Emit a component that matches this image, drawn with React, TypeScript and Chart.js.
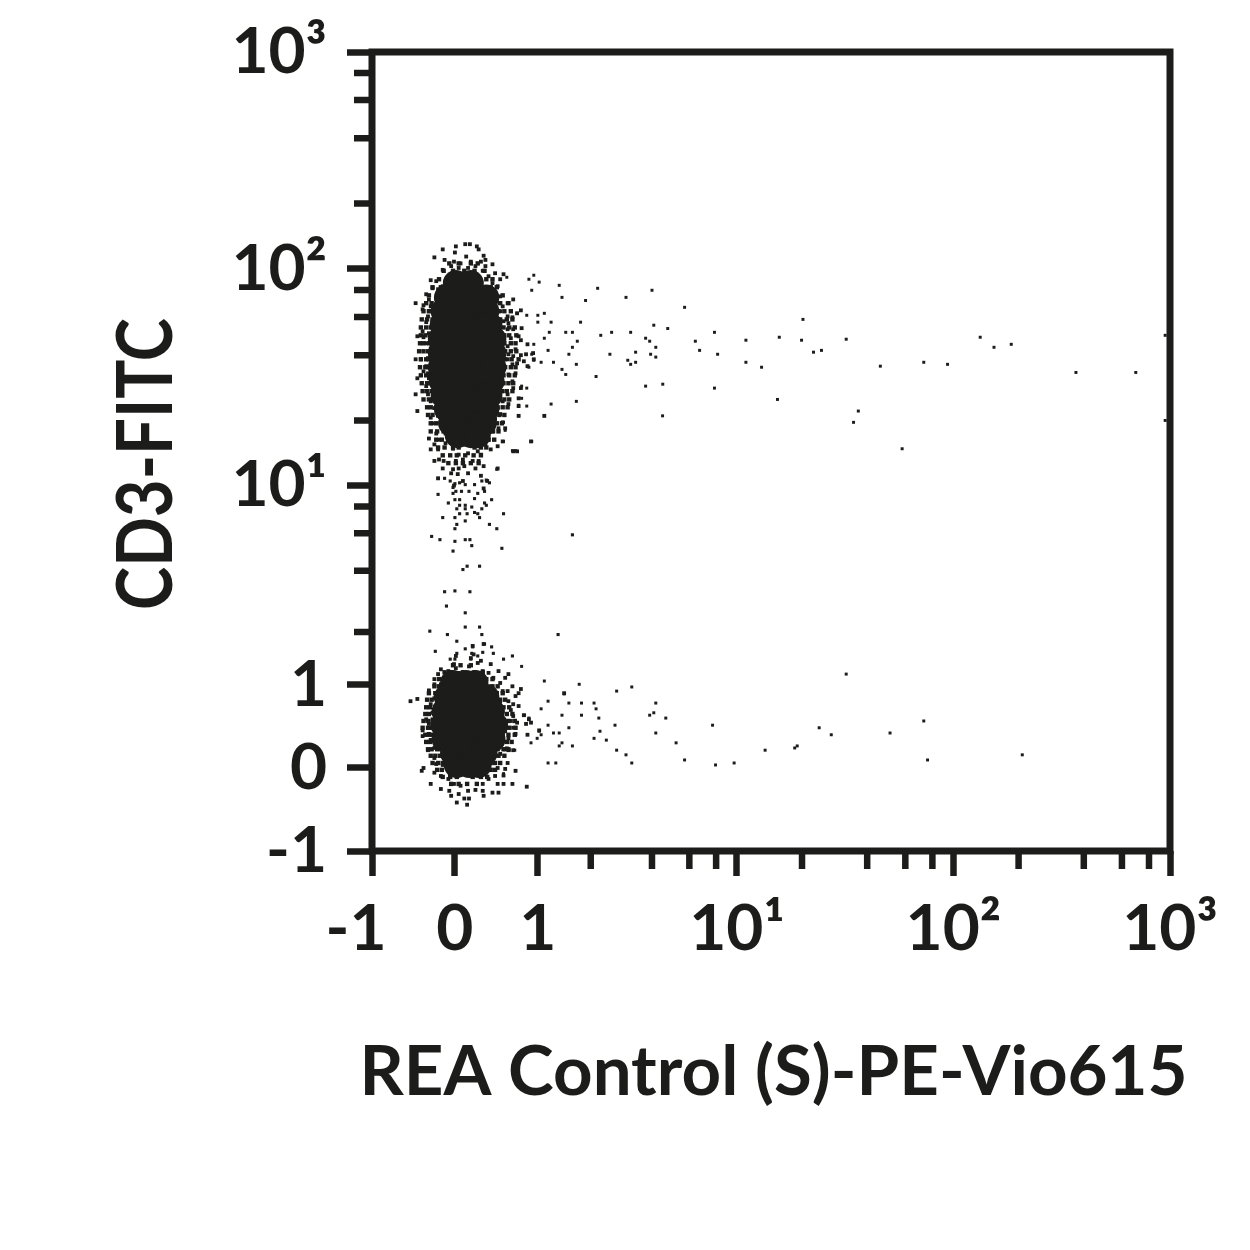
import React, { useEffect, useRef } from "react";
import { Chart, registerables, LinearScale } from "chart.js";

const axisTicks = [-1, 0, 1, 2, 4, 6, 8, 10, 20, 40, 60, 80, 100, 200, 400, 600, 800, 1000];
const xTickLabels = ["-1\u2002", "0", "1", "", "", "", "", "10¹", "", "", "", "", "10²", "", "", "", "", "10³"];
const yTickLabels = ["-1", "0", "1", "", "", "", "", "10¹", "", "", "", "", "10²", "", "", "", "", "10³"];
const xTitle = "REA Control (S)-PE-Vio615";
const yTitle = "CD3-FITC";

const upperCore = [
  [0.01,86],[0.17,86],
  [-0.085,73.9],[0.06,73.9],[0.21,73.9],[0.34,73.9],
  [-0.12,63.8],[0.04,63.8],[0.19,63.8],[0.34,63.8],
  [-0.13,55],[0.02,55],[0.17,55],[0.32,55],[0.375,55],
  [-0.15,47.4],[0,47.4],[0.15,47.4],[0.3,47.4],[0.42,47.4],
  [-0.15,40.9],[0,40.9],[0.15,40.9],[0.3,40.9],[0.42,40.9],
  [-0.15,35.2],[0,35.2],[0.15,35.2],[0.3,35.2],[0.42,35.2],
  [-0.14,30.3],[0,30.3],[0.15,30.3],[0.3,30.3],[0.4,30.3],
  [-0.12,26.1],[0.02,26.1],[0.17,26.1],[0.32,26.1],[0.375,26.1],
  [-0.085,22.6],[0.06,22.6],[0.21,22.6],[0.34,22.6],
  [-0.04,19.4],[0.11,19.4],[0.255,19.4],[0.31,19.4],
  [0.03,17.1],[0.17,17.1],[0.245,17.1],
];
const lowerCore = [
  [-0.02,1.03],[0.12,1.03],[0.22,1.03],
  [-0.085,0.825],[0.06,0.825],[0.21,0.825],[0.34,0.825],
  [-0.11,0.64],[0.04,0.64],[0.19,0.64],[0.34,0.64],[0.4,0.64],
  [-0.12,0.47],[0.03,0.47],[0.18,0.47],[0.33,0.47],[0.44,0.47],
  [-0.11,0.31],[0.04,0.31],[0.19,0.31],[0.34,0.31],[0.41,0.31],
  [-0.02,0.16],[0.13,0.16],[0.28,0.16],[0.32,0.16],
  [0.02,0.032],[0.15,0.032],[0.255,0.032],
];
const upperShell = [
  [-0.06,106],[0.04,106],[0.17,106],[0.245,106],
  [-0.12,98],[-0.02,98],[0.1,98],[0.21,98],[0.32,98],
  [-0.17,89.6],[-0.07,89.6],[0.02,89.6],[0.235,89.6],[0.34,89.6],[0.41,89.6],
  [-0.24,82.3],[-0.15,82.3],[-0.06,82.3],[0.3,82.3],[0.39,82.3],[0.46,82.3],
  [-0.28,75.5],[-0.19,75.5],[-0.11,75.5],[0.365,75.5],[0.44,75.5],[0.53,75.5],
  [-0.31,69.5],[-0.25,69.5],[-0.16,69.5],[0.43,69.5],[0.5,69.5],[0.6,69.5],
  [-0.34,63.8],[-0.28,63.8],[-0.2,63.8],[0.48,63.8],[0.55,63.8],[0.63,63.8],
  [-0.36,58.5],[-0.3,58.5],[-0.24,58.5],[0.5,58.5],[0.58,58.5],[0.65,58.5],
  [-0.37,53.7],[-0.31,53.7],[-0.26,53.7],[0.54,53.7],[0.61,53.7],[0.68,53.7],
  [-0.37,49.4],[-0.32,49.4],[-0.27,49.4],[0.55,49.4],[0.61,49.4],[0.7,49.4],
  [-0.38,45.4],[-0.34,45.4],[-0.28,45.4],[0.55,45.4],[0.63,45.4],[0.69,45.4],
  [-0.39,41.7],[-0.34,41.7],[-0.29,41.7],[0.56,41.7],[0.63,41.7],[0.7,41.7],
  [-0.37,38.3],[-0.31,38.3],[-0.28,38.3],[0.56,38.3],[0.64,38.3],[0.73,38.3],
  [-0.38,35.2],[-0.32,35.2],[-0.28,35.2],[0.56,35.2],[0.63,35.2],[0.69,35.2],
  [-0.37,32.3],[-0.31,32.3],[-0.27,32.3],[0.54,32.3],[0.61,32.3],[0.68,32.3],
  [-0.36,29.7],[-0.3,29.7],[-0.26,29.7],[0.54,29.7],[0.6,29.7],[0.66,29.7],
  [-0.35,27.3],[-0.3,27.3],[-0.25,27.3],[0.52,27.3],[0.58,27.3],[0.65,27.3],
  [-0.34,25],[-0.28,25],[-0.24,25],[0.49,25],[0.55,25],[0.61,25],
  [-0.3,23],[-0.26,23],[-0.2,23],[0.47,23],[0.53,23],[0.59,23],
  [-0.29,21.2],[-0.24,21.2],[-0.18,21.2],[0.43,21.2],[0.49,21.2],[0.55,21.2],
  [-0.26,19.4],[-0.2,19.4],[-0.15,19.4],[0.39,19.4],[0.46,19.4],[0.52,19.4],
  [-0.26,17.8],[-0.19,17.8],[-0.12,17.8],[0.34,17.8],[0.41,17.8],[0.48,17.8],
  [-0.2,16.3],[-0.14,16.3],[-0.07,16.3],[0.3,16.3],[0.365,16.3],[0.43,16.3],
  [-0.18,15],[-0.11,15],[-0.02,15],[0.04,15],[0.21,15],[0.28,15],[0.34,15],
  [-0.13,13.8],[-0.05,13.8],[0.02,13.8],[0.11,13.8],[0.2,13.8],[0.28,13.8],
  [-0.07,12.7],[0.01,12.7],[0.085,12.7],[0.17,12.7],[0.255,12.7],
];
const lowerShell = [
  [-0.02,1.32],[0.06,1.32],[0.17,1.32],
  [-0.11,1.2],[-0.04,1.2],[0.085,1.2],[0.21,1.2],[0.3,1.2],
  [-0.17,1.09],[-0.11,1.09],[-0.02,1.09],[0.28,1.09],[0.34,1.09],[0.41,1.09],
  [-0.22,0.98],[-0.17,0.98],[-0.11,0.98],[0.34,0.98],[0.41,0.98],[0.47,0.98],
  [-0.28,0.88],[-0.21,0.88],[-0.15,0.88],[0.39,0.88],[0.46,0.88],[0.53,0.88],
  [-0.3,0.79],[-0.25,0.79],[-0.19,0.79],[0.43,0.79],[0.5,0.79],[0.56,0.79],
  [-0.31,0.69],[-0.27,0.69],[-0.2,0.69],[0.48,0.69],[0.54,0.69],[0.61,0.69],
  [-0.32,0.605],[-0.28,0.605],[-0.22,0.605],[0.52,0.605],[0.58,0.605],[0.65,0.605],
  [-0.34,0.52],[-0.29,0.52],[-0.24,0.52],[0.54,0.52],[0.6,0.52],[0.68,0.52],
  [-0.35,0.44],[-0.29,0.44],[-0.25,0.44],[0.54,0.44],[0.61,0.44],[0.69,0.44],
  [-0.32,0.36],[-0.28,0.36],[-0.24,0.36],[0.53,0.36],[0.6,0.36],[0.68,0.36],
  [-0.31,0.28],[-0.27,0.28],[-0.21,0.28],[0.5,0.28],[0.58,0.28],[0.64,0.28],
  [-0.29,0.2],[-0.25,0.2],[-0.19,0.2],[0.47,0.2],[0.54,0.2],[0.6,0.2],
  [-0.26,0.13],[-0.21,0.13],[-0.16,0.13],[0.42,0.13],[0.48,0.13],[0.55,0.13],
  [-0.24,0.053],[-0.18,0.053],[-0.13,0.053],[0.39,0.053],[0.44,0.053],[0.5,0.053],
  [-0.19,-0.02],[-0.14,-0.02],[-0.07,-0.02],[0.33,-0.02],[0.39,-0.02],[0.44,-0.02],
  [-0.13,-0.095],[-0.05,-0.095],[0.02,-0.095],[0.19,-0.095],[0.28,-0.095],[0.35,-0.095],
  [-0.04,-0.17],[0.04,-0.17],[0.13,-0.17],[0.235,-0.17],
];
const upperFringe = [
  [0.01,127],[0.11,130],[0.16,130],[0.235,127],[-0.13,123],[0,119],[0.255,123],[-0.22,113],[0.12,114],[0.31,115],
  [-0.01,108],[0.06,106],[0.17,108],[0.28,108],[-0.11,110],[0.33,110],[-0.04,103],[0.04,101],[0.14,101],[0.22,103],
  [0.33,103],[0.41,105],[-0.13,99],[0.01,95.5],[0.1,95.5],[0.2,94.5],[0.3,98],[0.44,95.5],[-0.06,92.5],[0.365,92.5],
  [0.54,94.5],[0.5,89.6],[-0.2,87.8],[-0.1,87.8],[-0.26,88.7],[-0.13,83.2],[0.41,86],[0.47,83.2],[-0.24,81.4],[-0.18,80.6],
  [0.42,78.9],[-0.31,76.4],[-0.17,76.4],[0.5,74.7],[-0.28,72.3],[-0.2,73.1],[-0.43,69.5],[-0.34,68],[-0.26,67.2],[0.59,69.5],
  [0.53,67.2],[0.66,72.3],[-0.35,65.1],[-0.28,63.8],[0.5,63.8],[0.71,62.4],[0.76,64.4],[-0.29,60.4],[0.59,60.4],[0.65,59.8],
  [0.47,58.5],[0.54,57.4],[-0.24,57.4],[-0.31,56.8],[0.6,56.2],[0.66,52.7],[-0.35,51.6],[-0.28,50.5],[0.59,52.7],[0.77,53.3],
  [-0.41,48.9],[-0.34,48.4],[0.73,48.9],[0.76,46.9],[0.63,47.9],[-0.31,45.4],[0.85,44.9],[0.59,44],[0.69,42.6],[-0.26,43],
  [-0.43,38.3],[-0.37,38.3],[-0.29,38.8],[0.6,40.4],[0.66,39.6],[0.76,40],[0.83,40.4],[0.93,40.9],[0.59,38.3],[0.71,36.7],
  [0.8,37.5],[0.94,38.3],[-0.31,35.6],[-0.26,34.8],[0.65,36.3],[0.54,34.8],[-0.34,33.7],[-0.29,33],[0.85,35.6],[0.69,33],
  [0.6,32.6],[-0.41,31.3],[-0.28,31.3],[0.65,30.3],[0.76,28.2],[0.53,29.7],[-0.24,29.7],[-0.43,26.4],[-0.31,28.8],[-0.2,28.8],
  [0.66,28.2],[-0.24,27.3],[-0.29,26.4],[0.59,26.4],[0.53,27.3],[0.73,25.3],[-0.26,24.5],[-0.2,25],[0.53,24.5],[0.6,23.8],
  [0.73,23.3],[-0.41,22.1],[-0.22,22.8],[-0.15,23.8],[0.47,22.8],[0.5,21.4],[0.73,21],[1.1,21],[-0.26,20.6],[-0.18,21],
  [0.44,20.3],[0.53,19.6],[-0.24,19.4],[-0.15,19.4],[0.41,19.2],[-0.13,18.4],[0.48,18.4],[0.56,18.4],[-0.2,17.4],[-0.28,16.5],
  [-0.17,16.3],[-0.1,17.4],[-0.01,17.2],[0.28,17.8],[0.42,17.8],[0.365,16.3],[0.53,16],[0.9,16],[-0.22,15.5],[-0.1,15.7],
  [0.01,15.7],[0.1,15.5],[0.33,15.5],[0.47,15.2],[-0.26,14.7],[-0.18,14.7],[-0.02,14.8],[0.39,14.7],[0.66,14.4],[0.71,14.4],
  [0.04,13.9],[0.14,14.1],[0.245,14.4],[0.28,13.9],[-0.17,13.2],[-0.12,13],[0.01,13],[0.085,13.2],[0.19,13],[0.255,13],
  [0.47,12],[-0.22,13],[-0.13,12],[-0.02,11.9],[0.04,12],[0.1,12.3],[0.22,12],[0.31,12.3],[-0.04,11.4],[0.03,11.3],
  [0.14,11.4],[-0.18,10.8],[0.28,11.1],[-0.01,10],[0.085,10.5],[0.35,10.5],[0.31,9.7],
];
const bridge = [
  [0.46,11.9],[-0.18,10.8],[-0.11,10.8],[-0.05,10.5],[0.29,10.5],[0.34,10.6],[0.375,10.3],[0,10.2],[0.05,10.3],[0.11,10.1],
  [0.21,10.1],[-0.02,9.8],[0.01,9.4],[0.07,9.4],[0.15,9.4],[0.32,9.4],[-0.02,9.2],[0.245,9.2],[-0.18,9.1],[0.21,8.7],
  [0,8.6],[0.05,8.6],[0.4,8.6],[-0.07,8.3],[0.32,8.3],[0.05,8.1],[0.11,8.1],[0.34,8.1],[0.18,7.95],[0.02,7.8],
  [0.11,7.8],[0.29,7.8],[0.21,7.5],[0.05,7.4],[0.13,7.4],[0.245,7.4],[0.54,7.4],[-0.13,7.1],[0,7.1],[0.265,7.1],
  [0.11,6.85],[0.02,6.6],[0.375,6.6],[0,6.3],[0.46,6.3],[-0.25,5.8],[1.6,5.9],[-0.16,5.6],[0.11,5.6],[0.16,5.6],
  [0,5.5],[0.18,5.25],[0.52,5.1],[-0.02,4.95],[0.085,4.05],[0.13,4.2],[0.265,4.2],[-0.11,3.17],[0,3.2],[0.16,3.17],
  [-0.09,2.7],[0.11,2.5],[0.11,2.12],[0.265,2.12],[-0.27,2.02],[-0.08,1.94],[0.29,1.94],[1.33,1.94],[0.02,1.79],[0.32,1.73],
  [0.19,1.67],[0.4,1.67],[-0.21,1.58],[0.11,1.63],[0.02,1.54],[0.18,1.54],[0.3,1.56],[0.42,1.54],[0.65,1.49],[-0.05,1.43],
  [0,1.43],[0.17,1.43],[0.245,1.49],[0.54,1.43],
];
const lowerFringe = [
  [0.19,1.69],[0.31,1.73],[0.2,1.52],[0.01,1.49],[0.17,1.45],[0.28,1.4],[-0.01,1.34],[0.245,1.36],[0.39,1.34],[-0.15,1.25],
  [-0.07,1.22],[0.15,1.3],[0.01,1.27],[0.3,1.22],[0.48,1.22],[-0.18,1.17],[0.04,1.19],[0.22,1.19],[0.365,1.19],[0.6,1.17],
  [-0.22,1.09],[-0.12,1.09],[0.42,1.11],[0.56,1.11],[-0.02,1.06],[0.33,1.09],[0.5,1.03],[-0.22,1.01],[-0.15,1.01],[0.39,0.98],
  [0.65,0.98],[0.76,0.94],[-0.28,0.92],[0.53,0.91],[0.59,0.91],[0.73,0.88],[1.44,0.88],[-0.19,0.88],[0.365,0.88],[0.69,0.84],
  [-0.22,0.81],[0.44,0.81],[0.5,0.77],[0.6,0.77],[-0.26,0.73],[0.66,0.73],[0.73,0.706],[-0.17,0.68],[0.44,0.68],[0.53,0.64],
  [0.63,0.655],[-0.24,0.62],[-0.31,0.54],[0.66,0.58],[0.8,0.59],[-0.24,0.54],[0.5,0.555],[0.87,0.54],[0.63,0.52],[0.71,0.5],
  [0.83,0.485],[-0.49,0.77],[-0.41,0.8],[-0.28,0.485],[-0.35,0.41],[0.66,0.44],[-0.24,0.44],[1.02,0.41],[0.9,0.5],[-0.26,0.3],
  [-0.35,0.345],[-0.28,0.37],[0.56,0.4],[0.69,0.37],[0.85,0.36],[-0.26,0.3],[-0.2,0.29],[0.53,0.345],[0.6,0.32],[0.58,0.21],
  [-0.29,0.19],[-0.22,0.214],[-0.15,0.2],[0.52,0.26],[0.56,0.2],[0.66,0.19],[0.6,0.19],[-0.22,0.106],[0.5,0.15],[0.59,0.053],
  [-0.13,0.032],[-0.2,0.042],[-0.34,0],[-0.36,-0.03],[0.47,0],[0.56,-0.01],[-0.22,-0.05],[0.69,-0.03],[-0.15,-0.085],[0.44,-0.085],
  [0.54,-0.08],[-0.07,-0.117],[0.365,-0.117],[-0.26,-0.17],[-0.15,-0.225],[-0.06,-0.245],[-0.01,-0.17],[0.06,-0.19],[0.3,-0.17],[0.47,-0.17],
  [0.54,-0.17],[0.65,-0.17],[0.41,-0.265],[0.48,-0.265],[0.84,-0.2],[0.04,-0.28],[0.14,-0.245],[0.22,-0.235],[0.3,-0.245],[0.31,-0.3],
  [0.15,-0.33],[0.02,-0.375],[0.1,-0.33],[0.13,-0.4],[-0.04,-0.3],
];
const upperSparse = [
  [0.94,93.5],[0.58,91.5],[0.87,89.6],[1.02,86.9],[1.35,84],[2.17,81.4],[0.91,79.7],[4,79.7],[1.4,73.9],[3,73.9],
  [1.88,71.5],[5.7,66.5],[1.1,62.4],[0.71,62.4],[0.84,61.1],[1,61.1],[20.2,58.5],[1,56.8],[1.21,56.8],[1.77,56.8],
  [4.08,55],[4.75,53.1],[1.18,51],[1.47,51],[1.6,51],[2.25,49.4],[2.55,51],[3.16,51],[7.86,51],[1.1,47.9],
  [3.73,47.9],[1.7,46.4],[3.9,46.4],[6.4,46.4],[11,46.9],[15.7,48.4],[19.9,46.9],[0.94,44.9],[1.6,43.5],[4.17,43.5],
  [6.7,42.1],[24.6,42.1],[22.6,41.3],[1.16,42.1],[3.34,41.3],[0.91,40.4],[1.53,40.4],[2.5,40.4],[3.94,40.4],[8.13,40.4],
  [4.17,39.2],[0.94,37.9],[3.06,37.9],[3.34,37.1],[11,37.1],[1.05,37.1],[1.25,37.1],[1.68,36.3],[3.16,36.3],[13,35.2],
  [0.87,35.2],[1.4,34.4],[1.47,32.6],[2.13,31.9],[4.5,29.4],[3.73,28.8],[7.86,28.2],[0.84,28.2],[0.77,28.8],[0.77,25.3],
  [1.68,24.5],[15.4,25],[1.21,23.8],[0.73,23.5],[0.84,23.3],[1.1,21],[0.73,21],[4.49,21],[0.54,19.6],[0.91,16],
  [0.54,16],[0.65,14.5],[0.69,14.5],[0.56,18],[32,47.4],[46,35.6],[73,37.1],[94,36.3],[133,48.4],[154,43.5],
  [185,44.9],[368,33.3],[695,33.3],[950,49.4],[950,20],[36.4,22.1],[34.6,19.6],[58,14.8],
];
const lowerSparse = [
  [0.77,1.3],[1.1,1.06],[1.74,1.01],[2.7,0.91],[3.2,0.97],[32,1.17],[1.44,0.87],[1.53,0.745],[1.79,0.745],[2.08,0.745],
  [4.17,0.745],[1.16,0.77],[1.05,0.67],[2.13,0.67],[4.08,0.62],[3.9,0.59],[1.4,0.59],[1.79,0.59],[2.2,0.555],[4.65,0.555],
  [0.87,0.555],[0.81,0.59],[73,0.52],[7.7,0.47],[1.16,0.47],[2.65,0.47],[1.53,0.44],[24,0.44],[27.3,0.36],[4.17,0.38],
  [51,0.38],[2.23,0.4],[1.25,0.38],[1.35,0.38],[1.02,0.4],[1.05,0.36],[0.99,0.32],[2.08,0.32],[2.4,0.3],[0.9,0.27],
  [1.4,0.27],[1.35,0.236],[1.6,0.236],[5.2,0.27],[2.7,0.19],[19,0.236],[18.5,0.214],[13.5,0.19],[3,0.14],[208,0.14],
  [1.16,0.053],[1.29,0.053],[3.2,0.053],[5.7,0.085],[9.7,0.053],[7.95,0.032],[76,0.085],[0.61,0.19],[0.68,0.19],[0.69,-0.03],
  [0.54,-0.06],
];

const ink = "#1c1c1a";

class AsinhScale extends LinearScale {
  static id = "asinh";
  static defaults = LinearScale.defaults;
  declare _lo: number;
  declare _hi: number;
  configure() {
    super.configure();
    this._lo = Math.asinh(this.min);
    this._hi = Math.asinh(this.max);
  }
  buildTicks() {
    return axisTicks.map((value, i) => ({ value, major: yTickLabels[i] !== "" }));
  }
  getPixelForValue(value: number) {
    return this.getPixelForDecimal((Math.asinh(value) - this._lo) / (this._hi - this._lo));
  }
  getValueForPixel(pixel: number) {
    return Math.sinh(this.getDecimalForPixel(pixel) * (this._hi - this._lo) + this._lo);
  }
  drawTitle() {
    const title = (this.options as any).title;
    const ctx = this.ctx;
    const f = title.font;
    ctx.save();
    ctx.font = `${f.weight} ${f.size}px ${f.family}`;
    ctx.fillStyle = title.color;
    ctx.textAlign = "center";
    ctx.textBaseline = "middle";
    if (this.isHorizontal()) {
      ctx.translate((this.left + this.right) / 2 + 2.5, this.bottom - 177);
      ctx.fillText(title.text, 0, 0);
    } else {
      ctx.translate(this.left + 147, (this.top + this.bottom) / 2 + 12.5);
      ctx.rotate(-Math.PI / 2);
      ctx.fillText(title.text, 0, 0, 292);
    }
    ctx.restore();
  }
}
Chart.register(...registerables, AsinhScale);

const framePlugin = {
  id: "frame",
  afterDraw(chart: any) {
    const { ctx, chartArea: a, scales } = chart;
    ctx.save();
    ctx.strokeStyle = ink;
    ctx.lineWidth = 7;
    ctx.strokeRect(a.left, a.top, a.right - a.left, a.bottom - a.top);
    ctx.lineWidth = 6.5;
    ctx.beginPath();
    for (const t of scales.x.ticks) {
      if (t.major) continue;
      const p = scales.x.getPixelForValue(t.value);
      ctx.moveTo(p, a.bottom);
      ctx.lineTo(p, a.bottom + 18);
    }
    for (const t of scales.y.ticks) {
      if (t.major) continue;
      const p = scales.y.getPixelForValue(t.value);
      ctx.moveTo(a.left, p);
      ctx.lineTo(a.left - 18, p);
    }
    ctx.stroke();
    ctx.restore();
  },
};

const toPoints = (list: number[][]) => list.map(([x, y]) => ({ x, y }));

export default function App() {
  const ref = useRef<HTMLCanvasElement>(null);
  useEffect(() => {
    document.body.style.margin = "0";
    const family = "Lato";
    const tickFont = { family, size: 64, weight: "bold" as const };
    const dot = (label: string, list: number[][], radius: number, style: string) => ({
      label,
      data: toPoints(list),
      pointStyle: style,
      pointRadius: radius,
      pointBackgroundColor: ink,
      pointBorderWidth: 0,
      showLine: false,
    });
    const majorTick = (c: any) => (c.tick && c.tick.major ? ink : "rgba(0,0,0,0)");
    const chart = new Chart(ref.current!, {
      type: "scatter",
      data: {
        datasets: [
          dot("upper core", upperCore, 13, "circle"),
          dot("lower core", lowerCore, 13, "circle"),
          dot("upper shell", upperShell, 3.1, "rect"),
          dot("lower shell", lowerShell, 3.1, "rect"),
          dot("upper fringe", upperFringe, 2.7, "rect"),
          dot("lower fringe", lowerFringe, 2.7, "rect"),
          dot("bridge", bridge, 2.2, "rect"),
          dot("upper sparse", upperSparse, 2.1, "rect"),
          dot("lower sparse", lowerSparse, 2.1, "rect"),
        ],
      },
      options: {
        responsive: false,
        animation: false,
        layout: { padding: { top: 52, right: 80, left: 0, bottom: 0 } },
        plugins: { legend: { display: false }, tooltip: { enabled: false } },
        scales: {
          x: {
            type: "asinh",
            min: -1,
            max: 1000,
            afterFit: (s: any) => { s.height = 399; s.paddingLeft = 0; s.paddingRight = 0; },
            border: { display: false },
            grid: { drawOnChartArea: false, tickLength: 25, tickWidth: 6.5, tickColor: majorTick },
            ticks: {
              autoSkip: false,
              maxRotation: 0,
              minRotation: 0,
              padding: 15,
              color: ink,
              font: tickFont,
              callback: (_v: any, i: number) => xTickLabels[i],
            },
            title: { display: true, text: xTitle, color: ink, font: { family, size: 69, weight: "bold" } },
          },
          y: {
            type: "asinh",
            min: -1,
            max: 1000,
            afterFit: (s: any) => { s.width = 372; s.paddingTop = 0; s.paddingBottom = 0; },
            border: { display: false },
            grid: { drawOnChartArea: false, tickLength: 25, tickWidth: 6.5, tickColor: majorTick },
            ticks: {
              autoSkip: false,
              padding: 20,
              color: ink,
              font: tickFont,
              callback: (_v: any, i: number) => yTickLabels[i],
            },
            title: { display: true, text: yTitle, color: ink, font: { family, size: 76, weight: "bold" } },
          },
        },
      } as any,
      plugins: [framePlugin],
    } as any);
    return () => chart.destroy();
  }, []);
  return <canvas ref={ref} width={1250} height={1250} style={{ display: "block", width: 1250, height: 1250 }} />;
}
